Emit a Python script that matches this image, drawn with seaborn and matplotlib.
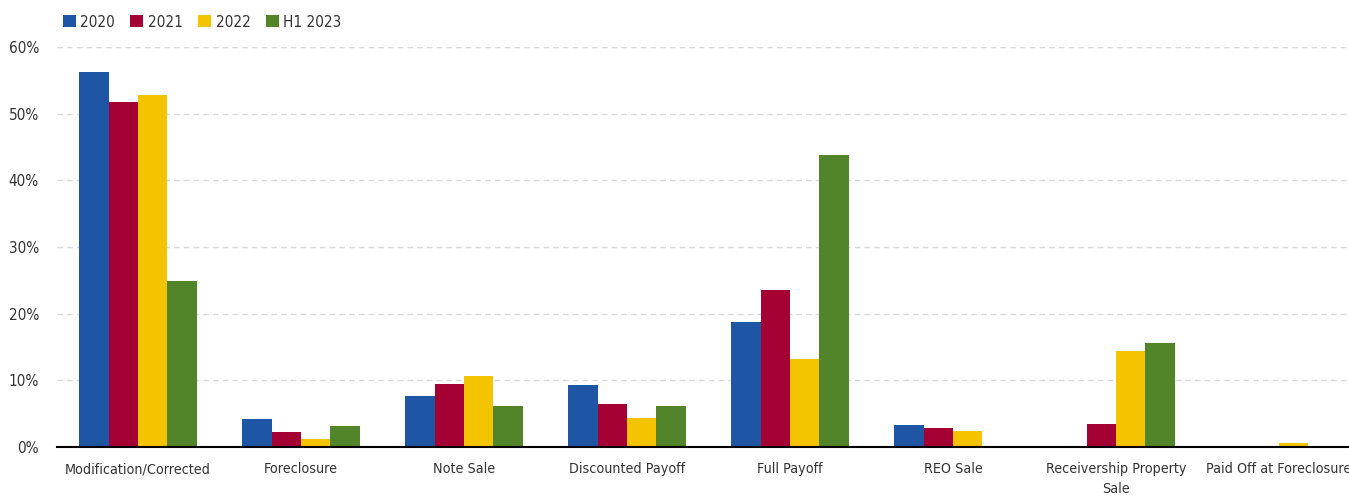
import numpy as np
import pandas as pd
import matplotlib
matplotlib.use("Agg")
import matplotlib.pyplot as plt
import seaborn as sns
from matplotlib.patches import Patch
from matplotlib.ticker import FuncFormatter

categories = ["Modification/Corrected", "Foreclosure", "Note Sale", "Discounted Payoff",
              "Full Payoff", "REO Sale", "Receivership Property\nSale", "Paid Off at Foreclosure"]
series_names = ["2020", "2021", "2022", "H1 2023"]
v2020 = [56.3, 4.2, 7.6, 9.3, 18.8, 3.3, np.nan, np.nan]
v2021 = [51.7, 2.3, 9.4, 6.4, 23.5, 2.9, 3.5, np.nan]
v2022 = [52.8, 1.2, 10.7, 4.3, 13.2, 2.4, 14.4, 0.6]
vh12023 = [24.9, 3.1, 6.2, 6.2, 43.8, np.nan, 15.6, np.nan]
colors = ["#1f55a5", "#a50034", "#f5c400", "#52852a"]
y_ticks = [0, 10, 20, 30, 40, 50, 60]

sns.set_theme(style="white")
plt.rcParams['font.family'] = ['DejaVu Sans']
plt.rcParams['font.stretch'] = 'condensed'
text_color = "#333333"
fs = 11

rows = []
for name, vals in zip(series_names, [v2020, v2021, v2022, vh12023]):
    for c, v in zip(categories, vals):
        rows.append({"category": c, "series": name, "value": v})
df = pd.DataFrame(rows)

fig = plt.figure(figsize=(13.49, 4.96), dpi=100)
ax = fig.add_axes([57 / 1349, 49 / 496, 1 - 57 / 1349, 400 / 496])

sns.barplot(data=df, x="category", y="value", hue="series", hue_order=series_names,
            order=categories, palette=colors, width=0.72, ax=ax, legend=False,
            saturation=1, edgecolor="none", linewidth=0)

ax.set_ylim(0, 60)
ax.set_xlim(-0.497, 7.43)
ax.set_yticks(y_ticks)
ax.yaxis.set_major_formatter(FuncFormatter(lambda v, p: f"{v:.0f}%"))
ax.grid(axis="y", color="#d9d9d9", linestyle=(0, (4, 3)), linewidth=1)
ax.set_axisbelow(True)
for s in ["top", "right", "left"]:
    ax.spines[s].set_visible(False)
ax.spines["bottom"].set_color("#000000")
ax.spines["bottom"].set_linewidth(1.5)
ax.set_xlabel("")
ax.set_ylabel("")
ax.tick_params(axis="y", length=0, labelsize=fs, labelcolor=text_color, pad=13)
ax.tick_params(axis="x", length=0, labelsize=10.3, labelcolor=text_color, pad=11)
for lbl in ax.get_xticklabels():
    lbl.set_fontstretch('condensed')
    lbl.set_linespacing(1.55)
for lbl in ax.get_yticklabels():
    lbl.set_fontstretch('condensed')

handles = [Patch(facecolor=c, edgecolor="none", label=n) for c, n in zip(colors, series_names)]
leg = fig.legend(handles=handles, loc="upper left", bbox_to_anchor=(52 / 1349, 0.992), ncol=4,
                 frameon=False, fontsize=fs, handlelength=0.85, handleheight=0.85,
                 handletextpad=0.3, columnspacing=1.0, borderaxespad=0.3)
for t in leg.get_texts():
    t.set_color(text_color)
    t.set_fontstretch('condensed')

fig.savefig("out.png", dpi=100)
